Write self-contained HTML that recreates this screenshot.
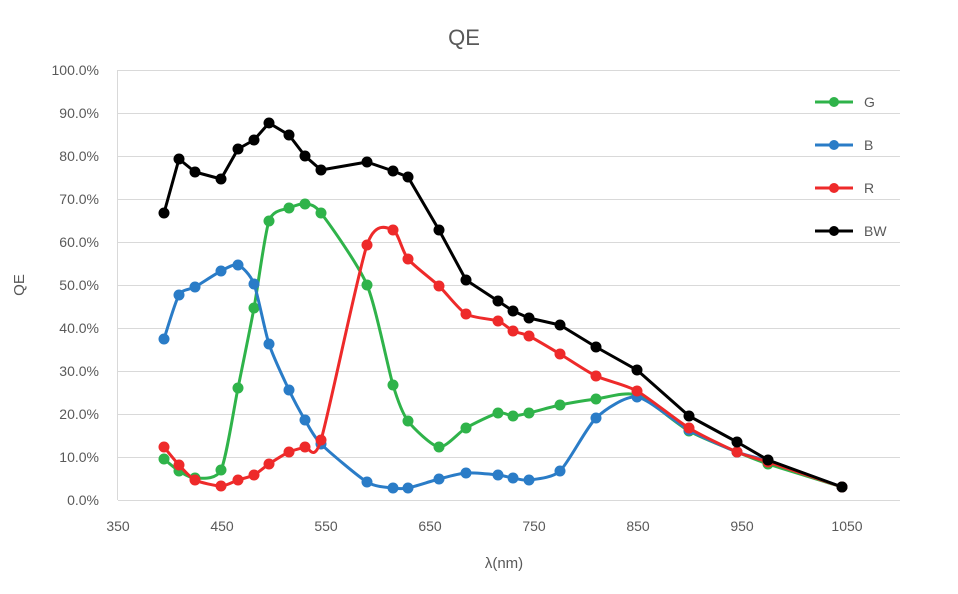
<!DOCTYPE html>
<html><head><meta charset="utf-8"><style>
body{margin:0;background:#fff;}
svg{display:block;font-family:"Liberation Sans",sans-serif;}
</style></head><body>
<svg id="s" width="958" height="594" xmlns="http://www.w3.org/2000/svg">
<rect width="958" height="594" fill="#fff"/>
<text x="464" y="45" font-size="22" fill="#595959" text-anchor="middle">QE</text>
<g stroke="#d9d9d9" stroke-width="1">
<line x1="118" x2="900" y1="70.5" y2="70.5"/><line x1="118" x2="900" y1="113.5" y2="113.5"/>
<line x1="118" x2="900" y1="156.5" y2="156.5"/><line x1="118" x2="900" y1="199.5" y2="199.5"/>
<line x1="118" x2="900" y1="242.5" y2="242.5"/><line x1="118" x2="900" y1="285.5" y2="285.5"/>
<line x1="118" x2="900" y1="328.5" y2="328.5"/><line x1="118" x2="900" y1="371.5" y2="371.5"/>
<line x1="118" x2="900" y1="414.5" y2="414.5"/><line x1="118" x2="900" y1="457.5" y2="457.5"/>
<line x1="118" x2="900" y1="500.5" y2="500.5"/>
<line x1="117.5" x2="117.5" y1="70" y2="500"/>
</g>
<g font-size="14" fill="#595959" text-anchor="end">
<text x="99" y="75">100.0%</text><text x="99" y="118">90.0%</text><text x="99" y="161">80.0%</text>
<text x="99" y="204">70.0%</text><text x="99" y="247">60.0%</text><text x="99" y="290">50.0%</text>
<text x="99" y="333">40.0%</text><text x="99" y="376">30.0%</text><text x="99" y="419">20.0%</text>
<text x="99" y="462">10.0%</text><text x="99" y="505">0.0%</text>
</g>
<g font-size="14" fill="#595959" text-anchor="middle">
<text x="118" y="531">350</text><text x="222" y="531">450</text><text x="326" y="531">550</text>
<text x="430" y="531">650</text><text x="534" y="531">750</text><text x="638" y="531">850</text>
<text x="742" y="531">950</text><text x="847" y="531">1050</text>
<text x="504" y="568" font-size="15">λ(nm)</text>
</g>
<text transform="translate(24,285) rotate(-90)" font-size="15" fill="#595959" text-anchor="middle">QE</text>
<g id="series"></g>
<g font-size="14" fill="#595959">
<line x1="815" x2="853" y1="102" y2="102" stroke="#2fb34a" stroke-width="3"/><circle cx="834" cy="102" r="5" fill="#2fb34a"/><text x="864" y="107">G</text>
<line x1="815" x2="853" y1="145" y2="145" stroke="#2a7cc7" stroke-width="3"/><circle cx="834" cy="145" r="5" fill="#2a7cc7"/><text x="864" y="150">B</text>
<line x1="815" x2="853" y1="188" y2="188" stroke="#ee2a2a" stroke-width="3"/><circle cx="834" cy="188" r="5" fill="#ee2a2a"/><text x="864" y="193">R</text>
<line x1="815" x2="853" y1="231" y2="231" stroke="#000" stroke-width="3"/><circle cx="834" cy="231" r="5" fill="#000"/><text x="864" y="236">BW</text>
</g>
</svg>
<script>
var X=[164,179,195,221,238,254,269,289,305,321,367,393,408,439,466,498,513,529,560,596,637,689,737,768,842];
var S=[
["#2fb34a",true,[459,471,478,470,388,308,221,208,204,213,285,385,421,447,428,413,416,413,405,399,395,431,452,464,487]],
["#2a7cc7",true,[339,295,287,271,265,284,344,390,420,444,482,488,488,479,473,475,478,480,471,418,397,430,452,461,487]],
["#ee2a2a",true,[447,465,480,486,480,475,464,452,447,440,245,230,259,286,314,321,331,336,354,376,391,428,452,462,487]],
["#000000",false,[213,159,172,179,149,140,123,135,156,170,162,171,177,230,280,301,311,318,325,347,370,416,442,460,487]]];
var g=document.getElementById("series"),h="";
S.forEach(function(s){
 var Y=s[2],n=X.length,d="M"+X[0]+","+Y[0];
 for(var i=0;i<n-1;i++){
  if(s[1]){
   var p0=i?i-1:i,p3=i+2<n?i+2:i+1,t=0.12;
   var c1x=X[i]+(X[i+1]-X[p0])*t,c1y=Y[i]+(Y[i+1]-Y[p0])*t;
   var c2x=X[i+1]-(X[p3]-X[i])*t,c2y=Y[i+1]-(Y[p3]-Y[i])*t;
   d+=" C"+c1x+","+c1y+" "+c2x+","+c2y+" "+X[i+1]+","+Y[i+1];
  } else d+=" L"+X[i+1]+","+Y[i+1];
 }
 h+='<path d="'+d+'" fill="none" stroke="'+s[0]+'" stroke-width="3" stroke-linejoin="round"/>';
 for(var j=0;j<n;j++)h+='<circle cx="'+X[j]+'" cy="'+Y[j]+'" r="5.5" fill="'+s[0]+'"/>';
});
g.innerHTML=h;
</script>
</body></html>
